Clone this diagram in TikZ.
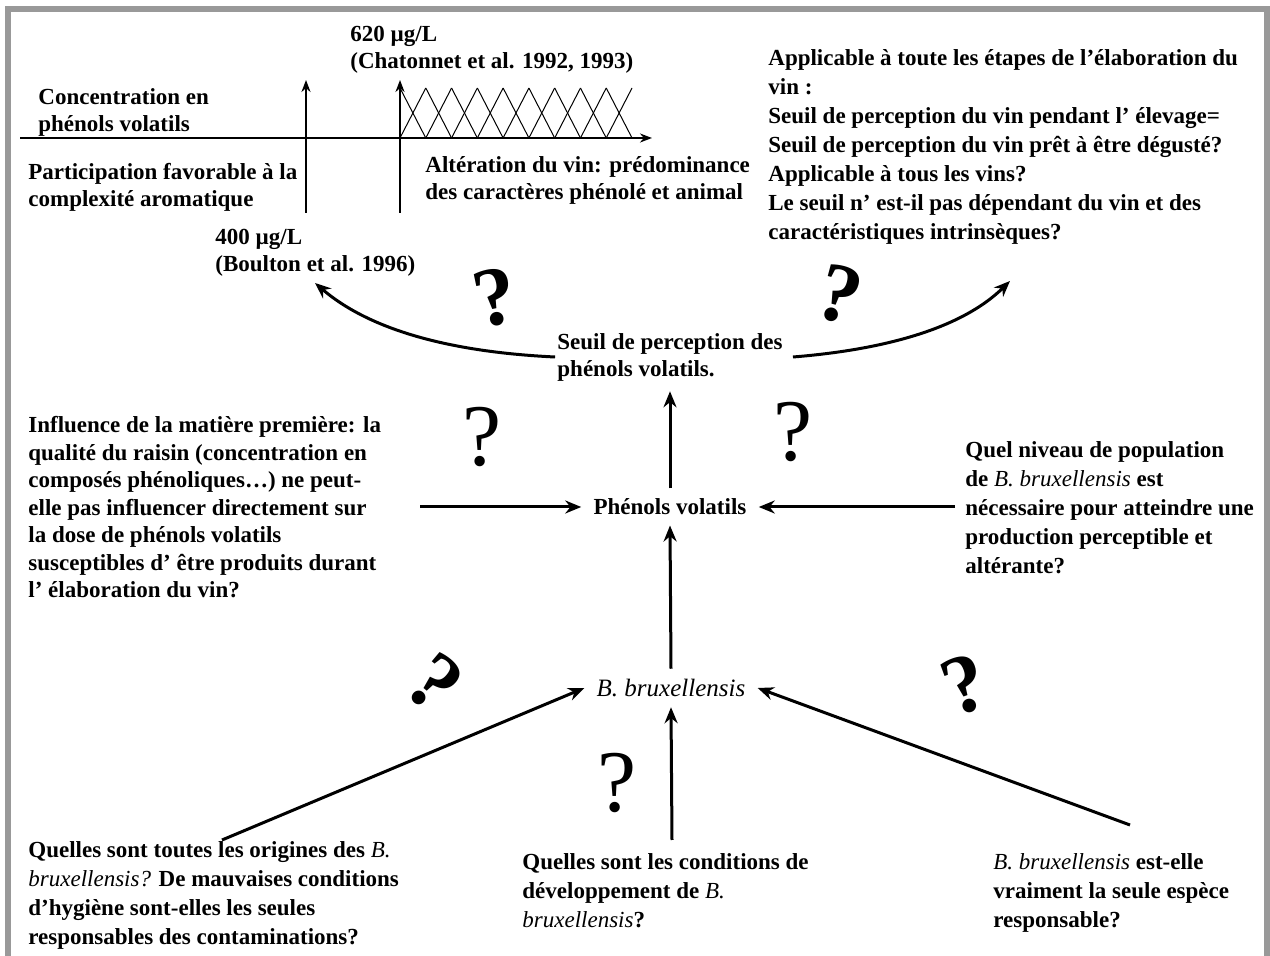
\documentclass[tikz,border=0pt]{standalone}
\usepackage{fontspec}
\setmainfont{Liberation Serif}
\usetikzlibrary{arrows.meta}
\definecolor{framegray}{HTML}{999999}
\newcommand{\bx}[1]{{\mdseries\itshape #1}}
\begin{document}
\begin{tikzpicture}[x=0.5pt,y=-0.5pt,
  txt/.style={font=\fontsize{11.5pt}{14.5pt}\selectfont\bfseries, align=left, inner sep=0pt, anchor=north west},
  chtxt/.style={txt, font=\fontsize{11.5pt}{13.5pt}\selectfont\bfseries},
  ctr/.style={font=\fontsize{11.5pt}{13.5pt}\selectfont\bfseries, align=left, inner xsep=5pt, inner ysep=5pt},
  qm/.style={font=\fontsize{44pt}{44pt}\selectfont, inner sep=0pt},
  qmb/.style={font=\fontsize{42pt}{42pt}\selectfont\bfseries, inner sep=0pt},
  arr/.style={line width=1.5pt, -{Stealth[length=8pt,width=6.5pt]}},
  axis/.style={line width=1pt, -{Stealth[length=6pt,width=4.5pt]}},
  hatch/.style={line width=0.5pt}]
\useasboundingbox (0,0) rectangle (1270,956);
% frame
\draw[framegray, line width=3pt] (8,956) -- (8,9) -- (1267,9) -- (1267,956);

% chart
\draw[axis] (20,138) -- (652,138);
\draw[axis] (306,213) -- (306,80);
\draw[axis] (400,213) -- (400,80);
\foreach \i in {0,...,8} {
  \draw[hatch] (400+\i*25.78,88) -- (400+\i*25.78+25.78,138);
  \draw[hatch] (400+\i*25.78,138) -- (400+\i*25.78+25.78,88);
}
\node[chtxt] (t620) at (350,26) {620 µg/L\\(Chatonnet et al. 1992, 1993)};
\node[chtxt] (tconc) at (38,88) {Concentration en\\phénols volatils};
\node[chtxt] (tpart) at (28,163) {Participation favorable à la\\complexité aromatique};
\node[chtxt] (talt) at (425,156) {Altération du vin: prédominance\\des caractères phénolé et animal};
\node[chtxt] (t400) at (215,229) {400 µg/L\\(Boulton et al. 1996)};

% top right text
\node[txt] (applic) at (768,49) {Applicable à toute les étapes de l’élaboration du\\vin :\\Seuil de perception du vin pendant l’ élevage=\\Seuil de perception du vin prêt à être dégusté?\\Applicable à tous les vins?\\Le seuil n’ est-il pas dépendant du vin et des\\caractéristiques intrinsèques?};

% central nodes
\node[ctr] (seuil) at (670,357) {Seuil de perception des\\phénols volatils.};
\node[ctr, inner xsep=6pt] (phen) at (670,507) {Phénols volatils};
\node[ctr, inner xsep=6pt, font=\fontsize{12.5pt}{13.5pt}\selectfont] (brux) at (671,688) {\bx{B. bruxellensis}};

% side texts
\node[txt, font=\fontsize{11.5pt}{13.75pt}\selectfont\bfseries] (infl) at (28,416) {Influence de la matière première: la\\qualité du raisin (concentration en\\composés phénoliques…) ne peut-\\elle pas influencer directement sur\\la dose de phénols volatils\\susceptibles d’ être produits durant\\l’ élaboration du vin?};
\node[txt] (quel) at (965,441) {Quel niveau de population\\de \bx{B. bruxellensis} est\\nécessaire pour atteindre une\\production perceptible et\\altérante?};
\node[txt] (orig) at (28,841) {Quelles sont toutes les origines des \bx{B.}\\\bx{bruxellensis?} De mauvaises conditions\\d’hygiène sont-elles les seules\\responsables des contaminations?};
\node[txt] (cond) at (522,853) {Quelles sont les conditions de\\développement de \bx{B.}\\\bx{bruxellensis}?};
\node[txt] (seule) at (993,853) {\bx{B. bruxellensis} est-elle\\vraiment la seule espèce\\responsable?};

% connector free ends
\coordinate (leftTip) at (315,283);
\coordinate (rightTip) at (1010,281);
\coordinate (inflEnd) at (420,507);
\coordinate (quelEnd) at (955,507);
\coordinate (origEnd) at (222,840);
\coordinate (condEnd) at (672,840);
\coordinate (seuleEnd) at (1130,825);

% connectors
\draw[arr] ([xshift=4pt]seuil.west) .. controls (450,352) and (370,330) .. (leftTip);
\draw[arr] (seuil.east) .. controls (880,350) and (960,330) .. (rightTip);
\draw[arr] (phen.north) -- (seuil.south);
\draw[arr] (brux.north) -- (phen.south);
\draw[arr] (inflEnd) -- (phen.west);
\draw[arr] (quelEnd) -- (phen.east);
\draw[arr] (origEnd) -- (brux.west);
\draw[arr] (condEnd) -- (brux.south);
\draw[arr] (seuleEnd) -- (brux.east);

% question marks
\node[qmb, rotate=12] (q1) at (495,298) {?};
\node[qmb, rotate=-15] (q2) at (840,295) {?};
\node[qm] (q3) at (482,437) {?};
\node[qm] (q4) at (793,432) {?};
\node[qmb, rotate=-40] (q5) at (435,683) {?};
\node[qm] (q6) at (617,783) {?};
\node[qmb, rotate=20] (q7) at (965,685) {?};
\end{tikzpicture}
\end{document}
